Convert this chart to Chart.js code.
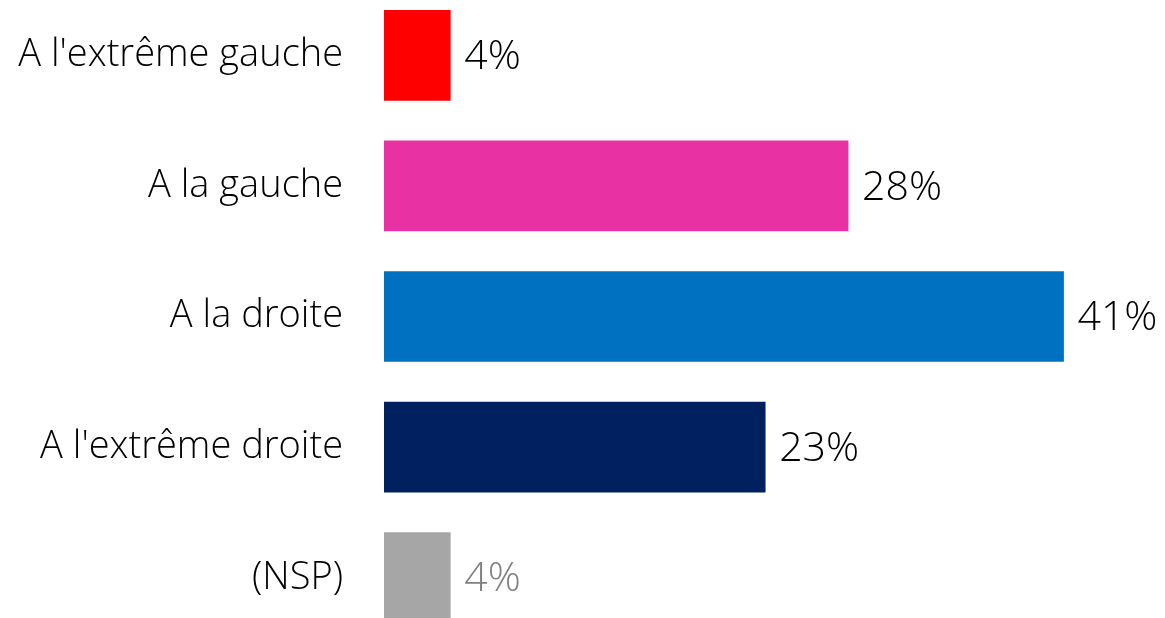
<!DOCTYPE html>
<html><head><meta charset="utf-8">
<script src="https://cdn.jsdelivr.net/npm/chart.js@4/dist/chart.umd.min.js"></script>
<style>
html,body{margin:0;padding:0;overflow:hidden;background:#fff;width:1165px;height:618px;}
#c{position:absolute;left:0;top:-10px;}
</style></head><body>
<canvas id="c" width="1165" height="653"></canvas>
<script>
const categories = ["A l'extrême gauche", "A la gauche", "A la droite", "A l'extrême droite", "(NSP)"];
const values = [4, 28, 41, 23, 4];
const barColors = ["#FF0000", "#E832A3", "#0070C0", "#002060", "#A6A6A6"];
const valueLabelColors = ["#000000", "#000000", "#000000", "#000000", "#808080"];

const FONT = "'Open Sans', sans-serif";

const valuePlugin = {
  id: 'valueLabels',
  afterDatasetsDraw(chart) {
    const ctx = chart.ctx;
    const meta = chart.getDatasetMeta(0);
    ctx.save();
    ctx.font = "300 41px " + FONT;
    ctx.textBaseline = 'middle';
    ctx.textAlign = 'left';
    meta.data.forEach((bar, i) => {
      ctx.fillStyle = valueLabelColors[i];
      ctx.fillText(values[i] + '%', bar.x + 14, bar.y + 2);
    });
    ctx.restore();
  }
};

new Chart(document.getElementById('c'), {
  type: 'bar',
  data: {
    labels: categories,
    datasets: [{
      data: values,
      backgroundColor: barColors,
      borderWidth: 0,
      barThickness: 90
    }]
  },
  options: {
    indexAxis: 'y',
    responsive: false,
    animation: false,
    layout: { padding: { left: 0, right: 2, top: 0, bottom: 0 } },
    plugins: { legend: { display: false }, tooltip: { enabled: false } },
    scales: {
      x: {
        display: false,
        min: 0,
        max: 47
      },
      y: {
        grid: { display: false },
        border: { display: false },
        ticks: {
          color: '#000000',
          font: { family: FONT, size: 38, weight: 300 },
          padding: 33
        },
        afterFit(scale) { scale.width = 384; scale.paddingTop = 0; scale.paddingBottom = 0; }
      }
    }
  },
  plugins: [valuePlugin]
});
</script>
</body></html>
